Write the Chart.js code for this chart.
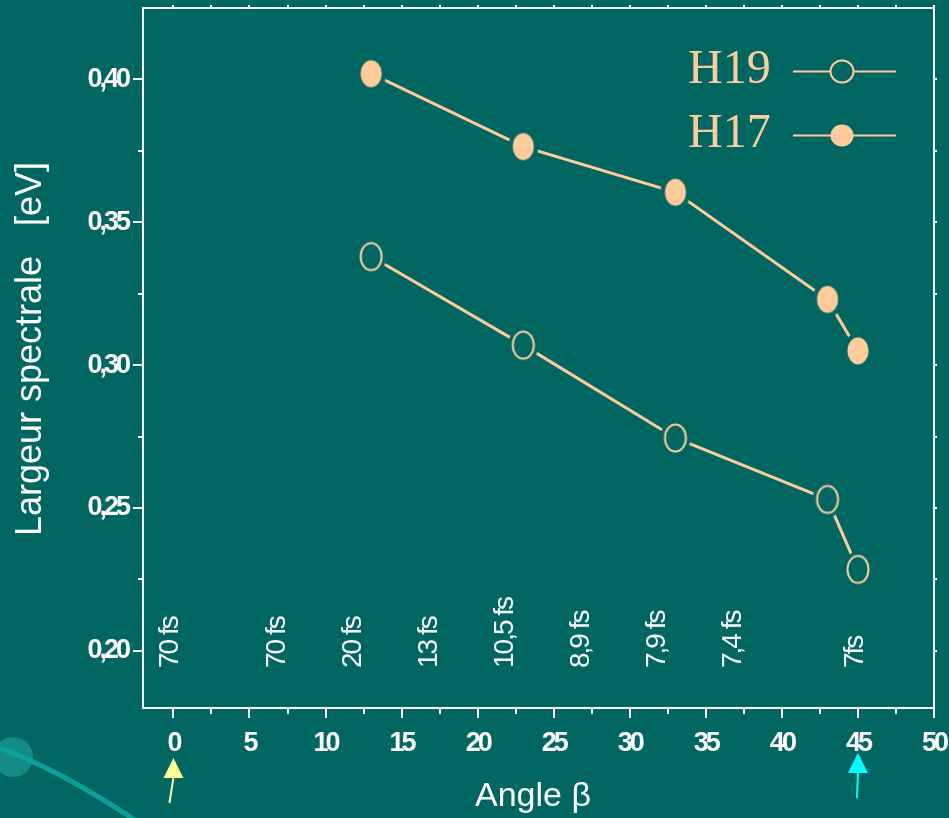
<!DOCTYPE html>
<html>
<head>
<meta charset="utf-8">
<script src="https://cdn.jsdelivr.net/npm/chart.js@4.4.1/dist/chart.umd.min.js"></script>
<style>
  html, body { margin: 0; padding: 0; background: #006661; }
  #wrap { width: 949px; height: 818px; }
</style>
</head>
<body>
<div id="wrap"><canvas id="chart"></canvas></div>
<script>
// données
const angles = [13, 23, 33, 43, 45];
const h19 = [0.338, 0.307, 0.2745, 0.253, 0.2285];
const h17 = [0.402, 0.3765, 0.3605, 0.323, 0.305];
const seriesNames = ['H19', 'H17'];
const xTicks = [0, 2.5, 5, 7.5, 10, 12.5, 15, 17.5, 20, 22.5, 25, 27.5, 30, 32.5, 35, 37.5, 40, 42.5, 45, 47.5, 50];
const yTicks = [0.2, 0.225, 0.25, 0.275, 0.3, 0.325, 0.35, 0.375, 0.4];
const fsAngles = [0, 7, 12, 17, 22, 27, 32, 37, 45];
const fsLabels = ['70 fs', '70 fs', '20 fs', '13 fs', '10,5 fs', '8,9 fs', '7,9 fs', '7,4 fs', '7fs'];

const BG = '#006661';
const PEACH = '#FFCC99';
const FONT = "Arial, 'Liberation Sans', sans-serif";

// marqueur ellipse avec un petit halo pour couper la ligne
function marker(filled) {
    const c = document.createElement('canvas');
    c.width = 32; c.height = 38;
    const g = c.getContext('2d');
    g.fillStyle = BG;
    g.beginPath(); g.ellipse(16, 19, 15, 18, 0, 0, Math.PI * 2); g.fill();
    g.beginPath(); g.ellipse(16, 19, 10.5, 13.5, 0, 0, Math.PI * 2);
    if (filled) {
        g.fillStyle = PEACH; g.fill();
    } else {
        g.lineWidth = 2; g.strokeStyle = PEACH; g.stroke();
    }
    return c;
}

function pts(ys) {
    return angles.map((a, i) => ({x: a, y: ys[i]}));
}

function noPad(s) {
    s.paddingLeft = 0; s.paddingRight = 0; s.paddingTop = 0; s.paddingBottom = 0;
}

const decor = {
    id: 'decor',
    beforeDraw(chart) {
        const ctx = chart.ctx;
        ctx.save();
        ctx.fillStyle = BG;
        ctx.fillRect(0, 0, chart.width, chart.height);
        // petite decoration en bas a gauche
        ctx.fillStyle = '#138C87';
        ctx.beginPath(); ctx.arc(13, 757, 20, 0, Math.PI * 2); ctx.fill();
        ctx.strokeStyle = '#0AA09B';
        ctx.lineWidth = 5;
        ctx.beginPath();
        ctx.moveTo(0, 748);
        ctx.quadraticCurveTo(60, 770, 135, 820);
        ctx.stroke();
        ctx.restore();
        ctx.letterSpacing = '-3px';
    },
    beforeDatasetsDraw(chart) {
        chart.ctx.letterSpacing = '0px';
        const ctx = chart.ctx, a = chart.chartArea;
        const xs = chart.scales.x, ys = chart.scales.y;
        ctx.save();
        ctx.strokeStyle = '#FFFFFF';
        ctx.lineWidth = 2;
        ctx.strokeRect(a.left, a.top, a.right - a.left, a.bottom - a.top);
        for (const v of xTicks) {
            const px = Math.round(xs.getPixelForValue(v));
            const len = v % 5 === 0 ? 10 : 6;
            ctx.beginPath(); ctx.moveTo(px, a.bottom); ctx.lineTo(px, a.bottom + len); ctx.stroke();
            ctx.beginPath(); ctx.moveTo(px, a.top); ctx.lineTo(px, a.top - 3); ctx.stroke();
        }
        for (const v of yTicks) {
            const py = Math.round(ys.getPixelForValue(v));
            const major = Math.abs(v * 20 - Math.round(v * 20)) < 1e-6;
            const len = major ? 10 : 5;
            ctx.beginPath(); ctx.moveTo(a.left, py); ctx.lineTo(a.left - len, py); ctx.stroke();
            ctx.beginPath(); ctx.moveTo(a.right, py); ctx.lineTo(a.right + 3, py); ctx.stroke();
        }
        // durees d'impulsion
        ctx.fillStyle = '#FFFFFF';
        ctx.font = '28px ' + FONT;
        ctx.letterSpacing = '-2px';
        ctx.textAlign = 'left';
        ctx.textBaseline = 'middle';
        fsAngles.forEach((v, i) => {
            ctx.save();
            ctx.translate(xs.getPixelForValue(v) - 3, 668);
            ctx.rotate(-Math.PI / 2);
            ctx.fillText(fsLabels[i], 0, 0);
            ctx.restore();
        });
        ctx.restore();
    },
    afterDraw(chart) {
        const ctx = chart.ctx;
        const xs = chart.scales.x;
        ctx.save();
        ctx.letterSpacing = '0px';
        ctx.fillStyle = '#FFFFFF';
        // titres des axes
        ctx.font = '36px ' + FONT;
        ctx.textAlign = 'center';
        ctx.textBaseline = 'middle';
        ctx.save();
        ctx.translate(31, 349);
        ctx.rotate(-Math.PI / 2);
        ctx.fillText('Largeur spectrale   [eV]', 0, 0);
        ctx.restore();
        ctx.font = '34px ' + FONT;
        ctx.textBaseline = 'alphabetic';
        ctx.fillText('Angle \u03B2', 533, 806);

        // legende
        const legY = [71.5, 135.5];
        chart.data.datasets.forEach((ds, i) => {
            ctx.fillStyle = PEACH;
            ctx.font = '48px "Liberation Serif", "Times New Roman", serif';
            ctx.textAlign = 'left';
            ctx.fillText(ds.label, 688, legY[i] + 11);
            ctx.strokeStyle = PEACH;
            ctx.lineWidth = 2;
            ctx.beginPath(); ctx.moveTo(793, legY[i]); ctx.lineTo(896, legY[i]); ctx.stroke();
            ctx.beginPath(); ctx.ellipse(842, legY[i], 11.5, 11, 0, 0, Math.PI * 2);
            ctx.fillStyle = i === 1 ? PEACH : BG;
            ctx.fill();
            if (i === 0) ctx.stroke();
        });

        // fleches
        const arrow = (v, color, tip, skew) => {
            const px = xs.getPixelForValue(v);
            ctx.fillStyle = color; ctx.strokeStyle = color;
            ctx.beginPath();
            ctx.moveTo(px, tip); ctx.lineTo(px - 10, tip + 20); ctx.lineTo(px + 10, tip + 20);
            ctx.closePath(); ctx.fill();
            ctx.lineWidth = 2;
            ctx.beginPath(); ctx.moveTo(px, tip + 20); ctx.lineTo(px - skew, tip + 45); ctx.stroke();
        };
        arrow(0, '#FFFF99', 758, 4);
        arrow(45, '#00FFFF', 753, 1);
        ctx.restore();
    }
};

new Chart(document.getElementById('chart'), {
    type: 'line',
    data: {
        datasets: [{
            label: seriesNames[0],
            data: pts(h19),
            borderColor: PEACH,
            borderWidth: 3,
            pointStyle: marker(false),
            pointRadius: 12
        }, {
            label: seriesNames[1],
            data: pts(h17),
            borderColor: PEACH,
            borderWidth: 3,
            pointStyle: marker(true),
            pointRadius: 12
        }]
    },
    options: {
        responsive: true,
        maintainAspectRatio: false,
        animation: false,
        events: [],
        layout: {autoPadding: false, padding: {left: 0, top: 8, right: 15, bottom: 0}},
        plugins: {legend: {display: false}, tooltip: {enabled: false}},
        scales: {
            x: {
                type: 'linear',
                min: -2,
                max: 50,
                afterBuildTicks: s => { s.ticks = xTicks.map(v => ({value: v})); },
                afterFit: s => { s.height = 110; noPad(s); },
                grid: {display: false, drawTicks: false},
                border: {display: false},
                ticks: {
                    autoSkip: false,
                    maxRotation: 0,
                    padding: 19,
                    color: '#FFFFFF',
                    font: {family: FONT, size: 27, weight: 'bold'},
                    callback: v => (v % 5 === 0 ? String(v) : '')
                }
            },
            y: {
                type: 'linear',
                min: 0.18,
                max: 0.425,
                afterBuildTicks: s => { s.ticks = yTicks.map(v => ({value: v})); },
                afterFit: s => { s.width = 143; noPad(s); },
                grid: {display: false, drawTicks: false},
                border: {display: false},
                ticks: {
                    autoSkip: false,
                    padding: 15,
                    color: '#FFFFFF',
                    font: {family: FONT, size: 27, weight: 'bold'},
                    callback: v => {
                        const major = Math.abs(v * 20 - Math.round(v * 20)) < 1e-6;
                        return major ? v.toFixed(2).replace('.', ',') : '';
                    }
                }
            }
        }
    },
    plugins: [decor]
});
</script>
</body>
</html>
